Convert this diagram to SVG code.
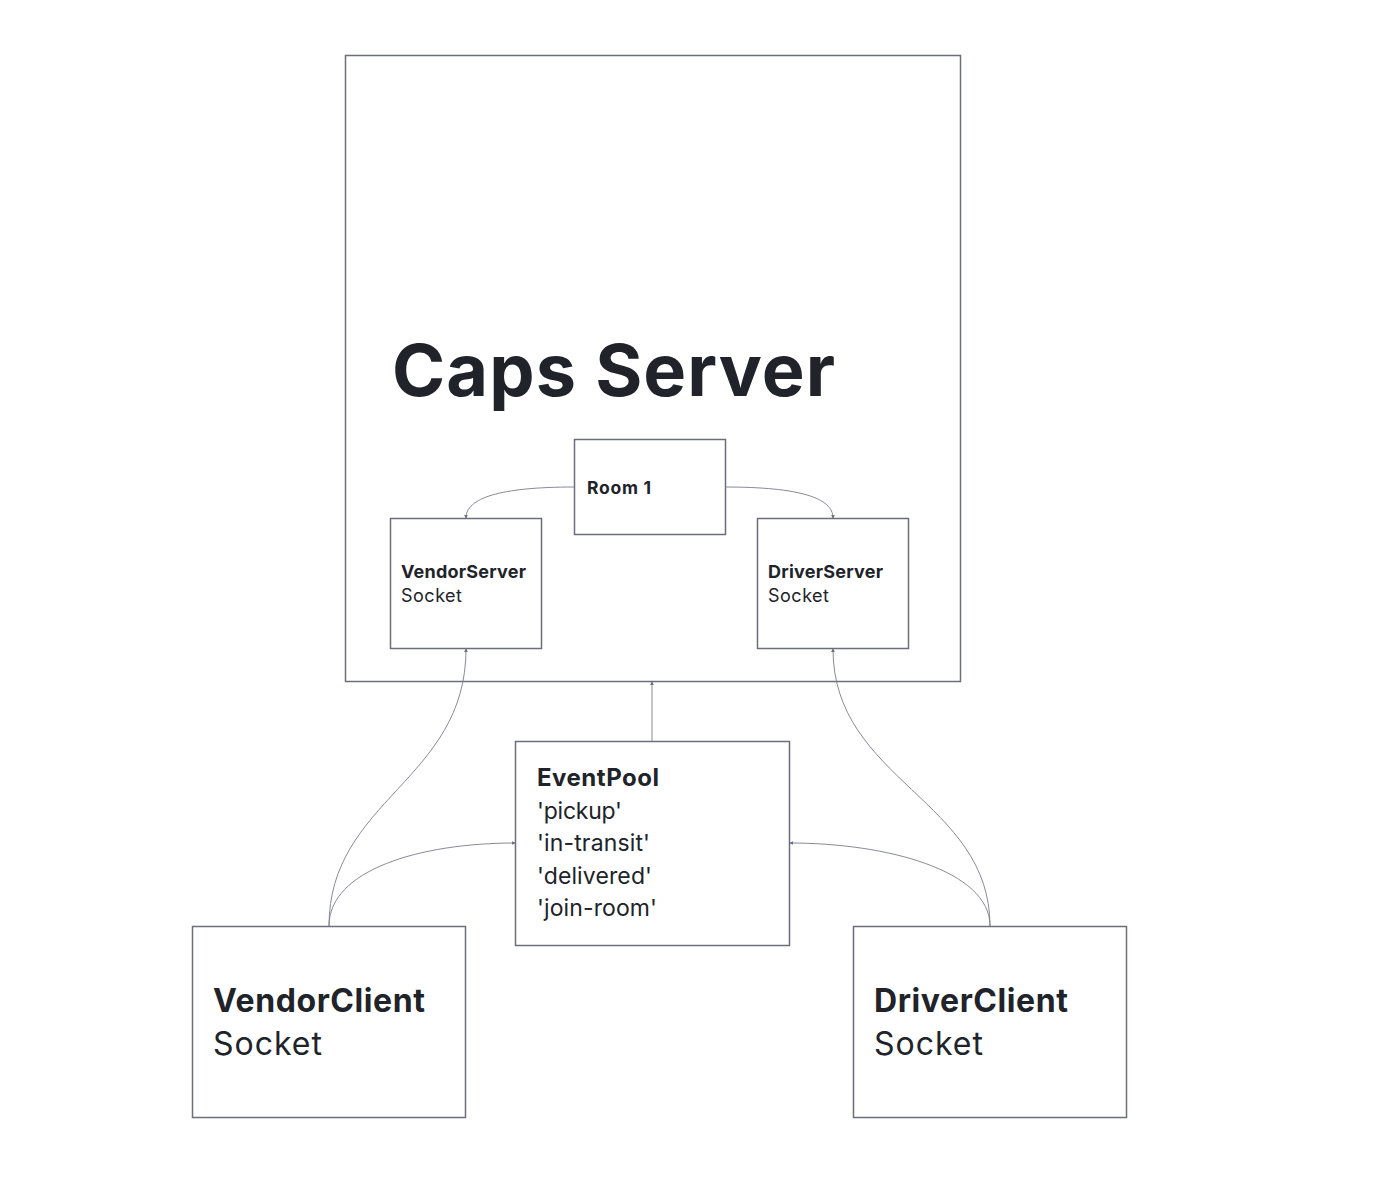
<svg xmlns="http://www.w3.org/2000/svg" width="1376" height="1192" viewBox="0 0 1376 1192">
<style>
.box{fill:#fff;stroke:#6b6e7c;stroke-width:1.5}
.edge{fill:none;stroke:#7a7d8a;stroke-width:0.9}
.t{font-family:Inter,"Liberation Sans",sans-serif;fill:#202329}
.b{font-weight:bold}
</style>
<defs>
<marker id="arr" viewBox="0 0 6 6" refX="5" refY="3" markerWidth="4" markerHeight="4" orient="auto" markerUnits="userSpaceOnUse">
<path d="M0,0 L6,3 L0,6 z" fill="#6b6e7c"/>
</marker>
</defs>
<rect width="1376" height="1192" fill="#fff"/>
<g id="caps-server">
<rect class="box" x="345.5" y="55.5" width="615" height="626"/>
<text class="t b" x="392" y="396" font-size="72" textLength="443" lengthAdjust="spacing">Caps Server</text>
</g>
<g id="room1">
<rect class="box" x="574.5" y="439.5" width="151" height="95"/>
<text class="t b" x="587" y="494" font-size="17.5" textLength="64" lengthAdjust="spacing">Room 1</text>
</g>
<g id="vendor-server">
<rect class="box" x="390.5" y="518.5" width="151" height="130"/>
<text class="t b" x="401" y="578" font-size="18" textLength="125" lengthAdjust="spacing">VendorServer</text>
<text class="t" x="401" y="602" font-size="18" textLength="61" lengthAdjust="spacing">Socket</text>
</g>
<g id="driver-server">
<rect class="box" x="757.5" y="518.5" width="151" height="130"/>
<text class="t b" x="768" y="578" font-size="18" textLength="115" lengthAdjust="spacing">DriverServer</text>
<text class="t" x="768" y="602" font-size="18" textLength="61" lengthAdjust="spacing">Socket</text>
</g>
<g id="event-pool">
<rect class="box" x="515.5" y="741.5" width="274" height="204"/>
<text class="t b" x="537" y="786" font-size="24" textLength="122" lengthAdjust="spacing">EventPool</text>
<text class="t" x="537" y="819" font-size="23" textLength="85" lengthAdjust="spacing">'pickup'</text>
<text class="t" x="537" y="851" font-size="23" textLength="113" lengthAdjust="spacing">'in-transit'</text>
<text class="t" x="537" y="884" font-size="23" textLength="115" lengthAdjust="spacing">'delivered'</text>
<text class="t" x="537" y="916" font-size="23" textLength="120" lengthAdjust="spacing">'join-room'</text>
</g>
<g id="vendor-client">
<rect class="box" x="192.5" y="926.5" width="273" height="191"/>
<text class="t b" x="213" y="1012" font-size="32" textLength="212" lengthAdjust="spacing">VendorClient</text>
<text class="t" x="213" y="1055" font-size="32" textLength="109" lengthAdjust="spacing">Socket</text>
</g>
<g id="driver-client">
<rect class="box" x="853.5" y="926.5" width="273" height="191"/>
<text class="t b" x="874" y="1012" font-size="32" textLength="194" lengthAdjust="spacing">DriverClient</text>
<text class="t" x="874" y="1055" font-size="32" textLength="109" lengthAdjust="spacing">Socket</text>
</g>
<g id="connectors">
<path class="edge" d="M574,487 C500,487 466,498 466,518" marker-end="url(#arr)"/>
<path class="edge" d="M725,487 C800,487 833,498 833,518" marker-end="url(#arr)"/>
<path class="edge" d="M652,741 L652,682" marker-end="url(#arr)"/>
<path class="edge" d="M329,926 C329,800 466,780 466,649" marker-end="url(#arr)"/>
<path class="edge" d="M329,926 C329,870 420,843 515,843" marker-end="url(#arr)"/>
<path class="edge" d="M990,926 C990,800 833,780 833,649" marker-end="url(#arr)"/>
<path class="edge" d="M990,926 C990,870 885,843 790,843" marker-end="url(#arr)"/>
</g>
</svg>
